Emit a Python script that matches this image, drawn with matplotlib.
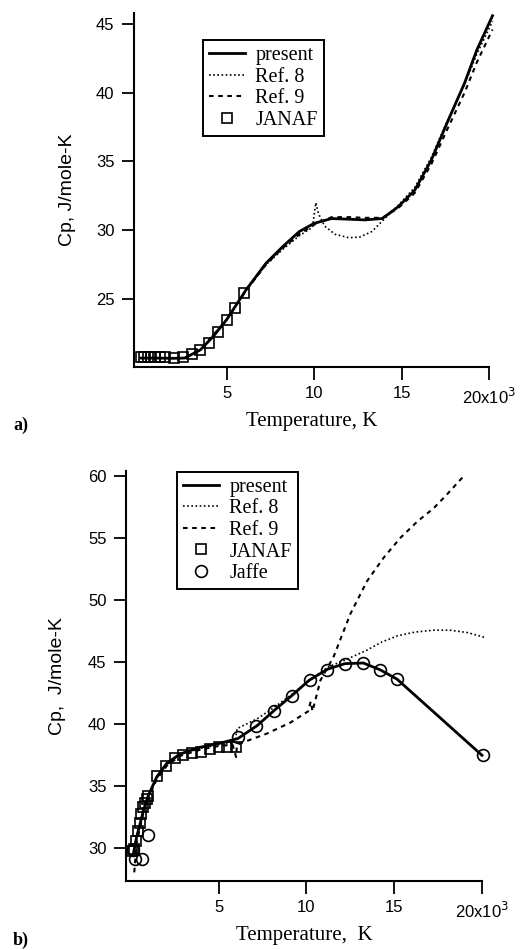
import matplotlib
matplotlib.use("Agg")
import matplotlib.pyplot as plt
from matplotlib.ticker import FixedLocator

# ---------------- Panel a data (T in 10^3 K, Cp J/mole-K) ----------------
a_present_T = [0.1, 1.0, 2.0, 2.6, 3.5, 4.25, 5.0, 6.1, 7.25, 8.2, 9.15, 10.0, 11.0, 12.0, 12.9, 13.9, 14.8, 15.75, 16.7, 17.6, 18.6, 19.3, 20.2]
a_present_Cp = [20.7, 20.7, 20.68, 20.7, 21.3, 22.3, 23.5, 25.65, 27.6, 28.8, 29.9, 30.5, 30.85, 30.8, 30.75, 30.85, 31.7, 32.9, 35.1, 37.8, 40.7, 43.1, 45.6]

a_ref8_T = [0.1, 2.6, 3.5, 5.0, 6.1, 7.25, 8.2, 9.15, 9.9, 10.1, 10.25, 10.6, 11.2, 12.0, 12.6, 13.3, 14.0, 14.8, 15.75, 16.7, 17.6, 18.6, 19.3, 20.2]
a_ref8_Cp = [20.7, 20.7, 21.3, 23.5, 25.6, 27.5, 28.6, 29.6, 30.2, 32.0, 31.2, 30.3, 29.7, 29.45, 29.5, 29.9, 30.8, 31.8, 33.1, 35.3, 37.9, 40.6, 42.8, 45.2]

a_ref9_T = [0.1, 2.6, 3.5, 5.0, 6.1, 7.25, 8.2, 9.15, 10.0, 11.0, 12.0, 12.9, 13.9, 14.8, 15.75, 16.7, 17.6, 18.6, 19.3, 20.2]
a_ref9_Cp = [20.7, 20.7, 21.3, 23.5, 25.6, 27.5, 28.7, 29.7, 30.4, 30.95, 30.95, 30.9, 30.9, 31.6, 32.7, 34.8, 37.3, 40.0, 42.2, 44.6]

a_janaf_T = [0.1, 0.3, 0.5, 0.7, 0.9, 1.2, 1.5, 2.0, 2.5, 3.0, 3.5, 4.0, 4.5, 5.0, 5.5, 6.0]
a_janaf_Cp = [20.8, 20.8, 20.8, 20.8, 20.78, 20.76, 20.74, 20.72, 20.74, 20.98, 21.3, 21.8, 22.6, 23.45, 24.35, 25.4]

# ---------------- Panel b data ----------------
b_present_T = [0.15, 0.34, 0.53, 0.72, 1.0, 1.48, 2.05, 2.8, 3.95, 5.0, 6.1, 7.2, 8.15, 9.17, 10.15, 11.2, 12.2, 13.25, 14.2, 15.16, 20.0]
b_present_Cp = [29.5, 30.9, 31.9, 33.0, 34.2, 35.7, 36.8, 37.55, 38.1, 38.4, 38.8, 39.85, 41.05, 42.27, 43.5, 44.4, 44.85, 44.9, 44.35, 43.6, 37.45]

b_ref8_T = [0.15, 0.34, 0.53, 0.72, 1.0, 1.48, 2.05, 2.8, 3.95, 5.0, 5.95, 6.05, 7.2, 8.15, 9.2, 10.2, 11.2, 12.3, 13.4, 14.3, 15.2, 16.2, 17.25, 18.2, 19.2, 20.2]
b_ref8_Cp = [29.3, 30.7, 31.8, 32.9, 34.1, 35.6, 36.7, 37.5, 38.0, 38.3, 38.5, 39.6, 40.4, 41.3, 42.4, 43.5, 44.55, 45.2, 45.9, 46.6, 47.1, 47.4, 47.55, 47.55, 47.35, 46.95]

b_ref9_T = [0.2, 0.34, 0.53, 0.72, 1.0, 1.48, 2.05, 2.8, 3.95, 5.0, 5.8, 6.0, 6.05, 6.4, 7.75, 9.1, 10.1, 10.25, 10.35, 10.8, 11.55, 12.5, 13.45, 14.4, 15.35, 16.3, 17.25, 18.0, 18.9]
b_ref9_Cp = [28.0, 30.4, 31.6, 32.8, 34.0, 35.5, 36.6, 37.4, 37.9, 38.2, 38.3, 37.3, 38.3, 38.5, 39.2, 40.1, 41.0, 41.8, 41.0, 43.5, 45.4, 48.85, 51.5, 53.4, 55.0, 56.3, 57.4, 58.5, 59.9]

b_janaf_T = [0.1, 0.2, 0.3, 0.4, 0.5, 0.6, 0.7, 0.8, 0.9, 1.0, 1.5, 2.0, 2.5, 3.0, 3.5, 4.0, 4.5, 5.0, 5.5, 6.0]
b_janaf_Cp = [29.7, 29.9, 30.5, 31.3, 32.0, 32.7, 33.3, 33.6, 33.9, 34.2, 35.8, 36.6, 37.2, 37.45, 37.6, 37.7, 37.95, 38.1, 38.1, 38.15]

b_jaffe_T = [0.15, 0.25, 0.63, 1.0, 6.1, 7.15, 8.17, 9.17, 10.18, 11.2, 12.2, 13.25, 14.2, 15.16, 20.04]
b_jaffe_Cp = [29.8, 29.1, 29.1, 31.0, 38.9, 39.8, 41.0, 42.27, 43.5, 44.37, 44.8, 44.88, 44.34, 43.6, 37.44]

a_yticks = [25, 30, 35, 40, 45]
b_yticks = [30, 35, 40, 45, 50, 55, 60]
xticks = [5, 10, 15, 20]
xtick_labels = ["5", "10", "15", "20x10$^3$"]

SERIF = ["Liberation Serif", "DejaVu Serif"]
SANS = ["Liberation Sans", "DejaVu Sans"]

fig = plt.figure(figsize=(5.2, 9.5), dpi=100)
ax_a = fig.add_axes([0.2577, 0.6137, 0.6827, 0.3726])
ax_b = fig.add_axes([0.2423, 0.0726, 0.6846, 0.4316])


def style(ax, yticks, ylabel, xlabel, ylabelpad):
    for s in ("top", "right"):
        ax.spines[s].set_visible(False)
    for s in ("left", "bottom"):
        ax.spines[s].set_linewidth(1.5)
    ax.xaxis.set_major_locator(FixedLocator(xticks))
    ax.set_xticklabels(xtick_labels, family=SANS, fontsize=12)
    ax.set_yticks(yticks)
    ax.set_yticklabels([str(v) for v in yticks], family=SANS, fontsize=12)
    ax.tick_params(direction="out", length=9, width=1.3, pad=5)
    ax.set_xlabel(xlabel, family=SERIF, fontsize=15, labelpad=4)
    ax.set_ylabel(ylabel, family=SANS, fontsize=14, labelpad=ylabelpad)


def legend(ax, anchor):
    leg = ax.legend(loc="upper left", bbox_to_anchor=anchor, prop={"family": SERIF, "size": 14.5},
                    frameon=True, fancybox=False, edgecolor="black", framealpha=1, labelspacing=0.12,
                    handlelength=1.8, handletextpad=0.5, borderpad=0.3, borderaxespad=0)
    leg.get_frame().set_linewidth(1.4)


lw_solid = 2.0
mk = dict(mfc="none", mec="black", mew=1.2, ls="none", clip_on=False)
# ---- panel a ----
ax_a.plot(a_present_T, a_present_Cp, "-", color="black", lw=lw_solid, label="present", clip_on=False, zorder=3)
ax_a.plot(a_ref8_T, a_ref8_Cp, linestyle=(0, (1, 1.5)), color="black", lw=1.2, label="Ref. 8", clip_on=False, zorder=3)
ax_a.plot(a_ref9_T, a_ref9_Cp, linestyle=(0, (2.2, 2.2)), color="black", lw=1.5, label="Ref. 9", clip_on=False, zorder=3)
ax_a.plot(a_janaf_T, a_janaf_Cp, "s", ms=7.5, label="JANAF", zorder=2, **mk)
ax_a.set_xlim(-0.3, 20.0)
ax_a.set_ylim(20.05, 45.8)
style(ax_a, a_yticks, "Cp, J/mole-K", "Temperature, K", 14)
legend(ax_a, (0.194, 0.924))

# ---- panel b ----
ax_b.plot(b_present_T, b_present_Cp, "-", color="black", lw=lw_solid, label="present", clip_on=False, zorder=3)
ax_b.plot(b_ref8_T, b_ref8_Cp, linestyle=(0, (1, 1.5)), color="black", lw=1.2, label="Ref. 8", clip_on=False, zorder=3)
ax_b.plot(b_ref9_T, b_ref9_Cp, linestyle=(0, (2.2, 2.2)), color="black", lw=1.5, label="Ref. 9", clip_on=False, zorder=3)
ax_b.plot(b_janaf_T, b_janaf_Cp, "s", ms=7.5, label="JANAF", zorder=2, **mk)
ax_b.plot(b_jaffe_T, b_jaffe_Cp, "o", ms=8.5, label="Jaffe", zorder=2, **mk)
ax_b.set_xlim(-0.27, 20.0)
ax_b.set_ylim(27.3, 60.4)
style(ax_b, b_yticks, "Cp,  J/mole-K", "Temperature,  K", 16)
legend(ax_b, (0.143, 0.998))

fig.text(0.025, 1 - 425 / 950, "a)", family=SERIF, fontsize=13, fontweight="bold", va="center")
fig.text(0.025, 1 - 940 / 950, "b)", family=SERIF, fontsize=13, fontweight="bold", va="center")

fig.savefig("out.png", dpi=100, facecolor="white")
